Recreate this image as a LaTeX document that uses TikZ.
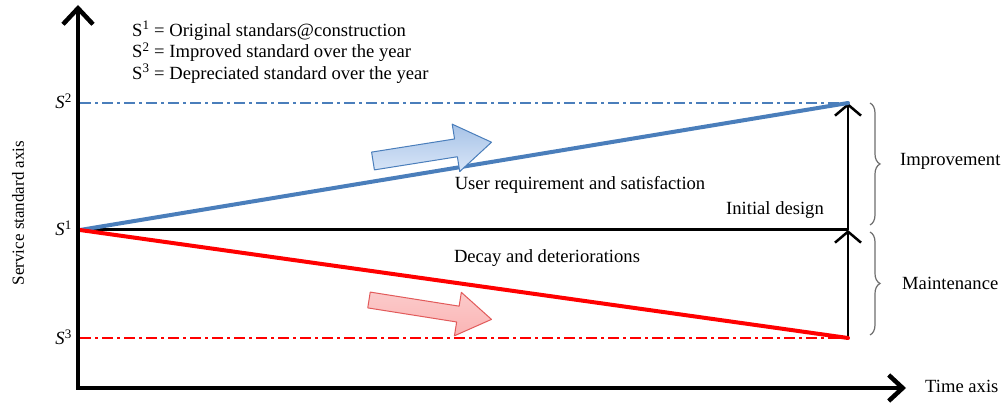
\documentclass[tikz,border=0pt]{standalone}
\usepackage{fontspec}
\setmainfont{Liberation Serif}
\usetikzlibrary{arrows.meta,decorations.pathreplacing}
\definecolor{lineblue}{RGB}{74,126,187}
\definecolor{fillblue}{RGB}{190,212,242}
\definecolor{fillred}{RGB}{250,180,180}
\definecolor{edgered}{RGB}{226,90,90}
\definecolor{bracegray}{RGB}{110,110,110}
\tikzset{
  axisline/.style={line width=4.5pt, black, line join=miter,
    arrows={Straight Barb[length=16pt,width=30pt,line width=4.5pt]-Straight Barb[length=14pt,width=26pt,line width=4.5pt]}},
  uparrow/.style={line width=2.5pt, black, -{Straight Barb[length=11pt,width=26pt,line width=2.5pt]}},
  dashdot/.style={line width=1.2pt, dash pattern=on 11pt off 4pt on 3pt off 4pt},
  lbl/.style={font=\fontsize{18.6}{21.5}\selectfont, inner sep=0pt},
  bracestyle/.style={decorate, decoration={brace, amplitude=10pt}, bracegray, line width=1.2pt},
  blockarrow/.style={line width=1pt, line join=round}
}
\begin{document}
\begin{tikzpicture}[x=1pt,y=1pt]
\useasboundingbox (0,0) rectangle (1002,404);
\fill[white] (0,0) rectangle (1002,404);
% coordinates
\coordinate (o) at (78,16);
\coordinate (ytop) at (78,399);
\coordinate (xend) at (906,16);
\coordinate (s1l) at (80,174);
\coordinate (s2l) at (80,301);
\coordinate (s3l) at (80,66);
\coordinate (s1r) at (848,174);
\coordinate (s2r) at (848,301);
\coordinate (s3r) at (848,66);
% dash-dot reference lines
\draw[dashdot, lineblue] (s2l) -- (s2r);
\draw[dashdot, red] (s3l) -- (s3r);
% vertical arrows
\draw[uparrow] (s3r) -- (s1r);
\draw[uparrow] (s1r) -- (s2r);
% initial design line
\draw[line width=3pt, black] (s1l) -- (s1r);
% trend lines
\draw[line width=4pt, lineblue, line cap=round] (s1l) -- (s2r);
\draw[line width=4pt, red, line cap=round] (s1l) -- (s3r);
% axes
\draw[axisline] (ytop) -- (o) -- (xend);
% block arrows
\begin{scope}[shift={(373,243)}, rotate=9]
\draw[blockarrow, lineblue, top color=fillblue!80!lineblue, bottom color=fillblue!60] (0,-9) -- (84,-9) -- (84,-24) -- (120,0) -- (84,24) -- (84,9) -- (0,9) -- cycle;
\end{scope}
\begin{scope}[shift={(369,104)}, rotate=-9]
\draw[blockarrow, edgered, top color=fillred!70, bottom color=fillred] (0,-8) -- (90,-8) -- (90,-22) -- (124,0) -- (90,22) -- (90,8) -- (0,8) -- cycle;
\end{scope}
% braces
\draw[bracestyle] (870,301) -- (870,179);
\draw[bracestyle] (870,172) -- (870,69);
% texts
\node[lbl, anchor=north west, align=left] (leg) at (132,383)
  {S\textsuperscript{1} = Original standars@construction\\
   S\textsuperscript{2} = Improved standard over the year\\
   S\textsuperscript{3} = Depreciated standard over the year};
\node[lbl, anchor=east] (ls2) at (72,303) {\textit{S}\textsuperscript{2}};
\node[lbl, anchor=east] (ls1) at (72,176) {\textit{S}\textsuperscript{1}};
\node[lbl, anchor=east] (ls3) at (72,67) {\textit{S}\textsuperscript{3}};
\node[lbl, rotate=90, font=\fontsize{17}{20}\selectfont] (yl) at (18,191) {Service standard axis};
\node[lbl] (user) at (580,219) {User requirement and satisfaction};
\node[lbl] (init) at (775,194) {Initial design};
\node[lbl] (decay) at (547,146) {Decay and deteriorations};
\node[lbl, anchor=west] (imp) at (900,243) {Improvement};
\node[lbl, anchor=west] (mai) at (902,121) {Maintenance};
\node[lbl, anchor=west] (time) at (925,18) {Time axis};
\end{tikzpicture}
\end{document}
